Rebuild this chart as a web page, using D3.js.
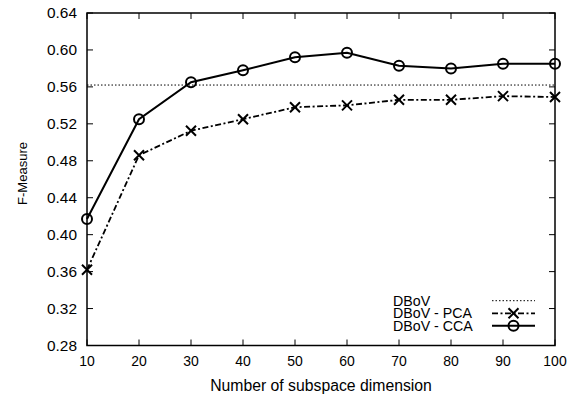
<!DOCTYPE html>
<html><head><meta charset="utf-8">
<script src="https://cdn.jsdelivr.net/npm/d3@7"></script>
<style>body{margin:0;background:#fff}svg{display:block}text{font-family:"Liberation Sans",Arial,sans-serif;fill:#000}</style>
</head><body><svg id="c" width="576" height="394"></svg>
<script>
const dims = [10,20,30,40,50,60,70,80,90,100];
const ccaValues = [0.417,0.525,0.565,0.578,0.592,0.597,0.583,0.580,0.585,0.585];
const pcaValues = [0.362,0.486,0.5125,0.525,0.538,0.540,0.546,0.546,0.550,0.549];
const dbovValue = 0.562;
const yTicks = [0.28,0.32,0.36,0.40,0.44,0.48,0.52,0.56,0.60,0.64];
const xTicks = [10,20,30,40,50,60,70,80,90,100];
const legendLabels = ["DBoV","DBoV - PCA","DBoV - CCA"];

const svg = d3.select("#c");
const L=87,R=555,T=13,B=345.5;
const x = d3.scaleLinear().domain([10,100]).range([L,R]);
const y = d3.scaleLinear().domain([0.28,0.64]).range([B,T]);

// font size fitting a sample string to a measured width in the reference
function fit(str, w){
  const t = svg.append("text").style("font-size","100px").text(str);
  const len = t.node().getComputedTextLength();
  t.remove();
  return (100*w/len) + "px";
}
const fsY = fit("0.64", 30);
const fsX = fit("100", 23.3);
const fsXL = fit("Number of subspace dimension", 222);
const fsYL = fit("F-Measure", 63);
const fsLeg = fit("DBoV - PCA", 79);

// ticks (inward, mirrored)
const tk = 6;
const g = svg.append("g").attr("stroke","#000").attr("stroke-width",1);
yTicks.forEach(v=>{
  g.append("line").attr("x1",L).attr("x2",L+tk).attr("y1",y(v)).attr("y2",y(v));
  g.append("line").attr("x1",R).attr("x2",R-tk).attr("y1",y(v)).attr("y2",y(v));
});
xTicks.forEach(v=>{
  g.append("line").attr("x1",x(v)).attr("x2",x(v)).attr("y1",B).attr("y2",B-tk);
  g.append("line").attr("x1",x(v)).attr("x2",x(v)).attr("y1",T).attr("y2",T+tk);
});
// tick labels
svg.selectAll(".yl").data(yTicks).join("text").attr("x",L-10).attr("y",d=>y(d)).attr("dy","0.35em")
  .attr("text-anchor","end").style("font-size",fsY).text(d=>d.toFixed(2));
svg.selectAll(".xl").data(xTicks).join("text").attr("x",d=>x(d)).attr("y",361).attr("dy","0.35em")
  .attr("text-anchor","middle").style("font-size",fsX).text(d=>d);
svg.append("text").attr("x",321).attr("y",385).attr("dy","0.35em").attr("text-anchor","middle")
  .style("font-size",fsXL).text("Number of subspace dimension");
svg.append("text").attr("transform",`translate(22,173.5) rotate(-90)`).attr("dy","0.35em")
  .attr("text-anchor","middle").style("font-size",fsYL).text("F-Measure");

// DBoV line
svg.append("line").attr("x1",L).attr("x2",R).attr("y1",y(dbovValue)).attr("y2",y(dbovValue))
  .attr("stroke","#000").attr("stroke-width",1).attr("stroke-dasharray","1.5,2");

const line = d3.line().x((d,i)=>x(dims[i])).y(d=>y(d));
svg.append("path").datum(pcaValues).attr("d",line).attr("fill","none").attr("stroke","#000")
  .attr("stroke-width",1.8).attr("stroke-dasharray","6,2.5,2,2.5");
svg.append("path").datum(ccaValues).attr("d",line).attr("fill","none").attr("stroke","#000").attr("stroke-width",2);

function cross(sel,cx,cy){
  const s=5;
  sel.append("path").attr("d",`M${cx-s},${cy-s}L${cx+s},${cy+s}M${cx-s},${cy+s}L${cx+s},${cy-s}`)
    .attr("stroke","#000").attr("stroke-width",2).attr("fill","none");
}
function circ(sel,cx,cy){
  sel.append("circle").attr("cx",cx).attr("cy",cy).attr("r",5).attr("fill","none").attr("stroke","#000").attr("stroke-width",2);
}
pcaValues.forEach((v,i)=>cross(svg,x(dims[i]),y(v)));
ccaValues.forEach((v,i)=>circ(svg,x(dims[i]),y(v)));

// frame
svg.append("rect").attr("x",L).attr("y",T).attr("width",R-L).attr("height",B-T)
  .attr("fill","none").attr("stroke","#000").attr("stroke-width",1.5);

// legend
const ly=[300.7,313.3,325.7];
legendLabels.forEach((t,i)=>{
  svg.append("text").attr("x",393).attr("y",ly[i]).attr("dy","0.35em").style("font-size",fsLeg).text(t);
});
svg.append("line").attr("x1",492).attr("x2",535).attr("y1",ly[0]).attr("y2",ly[0]).attr("stroke","#000").attr("stroke-width",1).attr("stroke-dasharray","1.5,2");
svg.append("line").attr("x1",492).attr("x2",535).attr("y1",ly[1]).attr("y2",ly[1]).attr("stroke","#000").attr("stroke-width",1.8).attr("stroke-dasharray","6,2.5,2,2.5");
cross(svg,513.5,ly[1]);
svg.append("line").attr("x1",492).attr("x2",535).attr("y1",ly[2]).attr("y2",ly[2]).attr("stroke","#000").attr("stroke-width",2);
circ(svg,513.5,ly[2]);
</script></body></html>
